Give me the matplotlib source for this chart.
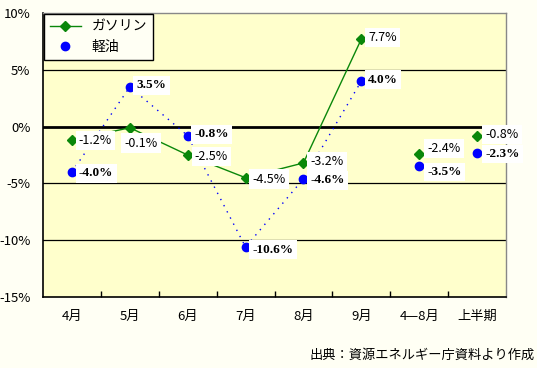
import matplotlib
matplotlib.use("Agg")
import matplotlib.pyplot as plt
import numpy as np
from matplotlib.lines import Line2D

categories = ["4月", "5月", "6月", "7月", "8月", "9月", "4—8月", "上半期"]
gasoline = [-1.2, -0.1, -2.5, -4.5, -3.2, 7.7, -2.4, -0.8]
diesel = [-4.0, 3.5, -0.8, -10.6, -4.6, 4.0, -3.5, -2.3]
gas_labels = ["-1.2%", "-0.1%", "-2.5%", "-4.5%", "-3.2%", "7.7%", "-2.4%", "-0.8%"]
diesel_labels = ["-4.0%", "3.5%", "-0.8%", "-10.6%", "-4.6%", "4.0%", "-3.5%", "-2.3%"]
yticks = [10, 5, 0, -5, -10, -15]
ytick_labels = ["10%", "5%", "0%", "-5%", "-10%", "-15%"]
source = "出典：資源エネルギー庁資料より作成"

JP = ["Noto Sans CJK JP", "DejaVu Sans"]
GREEN = "#0a870a"
BLUE = "#0000ff"

W, H = 537, 368
fig = plt.figure(figsize=(W / 100, H / 100), dpi=100)
fig.patch.set_facecolor("#fffff4")
ax = fig.add_axes([43 / W, 1 - 297 / H, (506 - 43) / W, (297 - 13) / H])
ax.set_facecolor("#ffffcc")

x = np.arange(len(categories))
n_line = 6
ax.plot(x[:n_line], gasoline[:n_line], color=GREEN, lw=1.0, marker="D", ms=5.5, zorder=3)
ax.plot(x[n_line:], gasoline[n_line:], color=GREEN, lw=0, marker="D", ms=5.5, zorder=3)
ax.plot(x[:n_line], diesel[:n_line], color=BLUE, lw=1.0, ls=(0, (1, 4)), marker="o", ms=6, zorder=3)
ax.plot(x[n_line:], diesel[n_line:], color=BLUE, lw=0, marker="o", ms=6, zorder=3)

gas_off = [(5, 0), (-4, -11), (5, -1), (5, -1), (5, 1), (5, 1), (6, 4), (6, 1)]
dsl_off = [(5, -1), (5, 1), (5, 1), (5, -2), (5, -1), (5, 1), (6, -4), (6, -1)]
bbox = dict(boxstyle="square,pad=0.25", fc="white", ec="none")
for xi, yi, t, off in zip(x, gasoline, gas_labels, gas_off):
    ax.annotate(t, (xi, yi), xytext=off, textcoords="offset points",
                ha="left", va="center", fontsize=9, family=JP, color="black",
                bbox=bbox, zorder=5)
for xi, yi, t, off in zip(x, diesel, diesel_labels, dsl_off):
    ax.annotate(t, (xi, yi), xytext=off, textcoords="offset points",
                ha="left", va="center", fontsize=9.5, family="Liberation Serif",
                weight="bold", color="black", bbox=bbox, zorder=5)

ax.set_xlim(-0.5, len(categories) - 0.5)
ax.set_ylim(-15, 10)
for g in [5, -5, -10]:
    ax.axhline(g, color="black", lw=0.9, zorder=1)
ax.axhline(0, color="black", lw=2.0, zorder=2)

ax.set_yticks(yticks)
ax.set_yticklabels(ytick_labels, family=JP, fontsize=9.5)
ax.tick_params(axis="y", length=0, pad=9)
ax.set_xticks(x)
ax.set_xticklabels(categories, family=JP, fontsize=9.5)
ax.tick_params(axis="x", length=0, pad=9)
ax.set_xticks(np.arange(0.5, len(categories) - 0.5), minor=True)
ax.tick_params(axis="x", which="minor", direction="in", length=4, width=1, color="black")

for s in ["left", "bottom"]:
    ax.spines[s].set_color("black")
    ax.spines[s].set_linewidth(1.2)
for s in ["top", "right"]:
    ax.spines[s].set_color("#888888")
    ax.spines[s].set_linewidth(1.0)

handles = [Line2D([], [], color=GREEN, lw=1.0, marker="D", ms=5.5),
           Line2D([], [], color=BLUE, lw=0, marker="o", ms=6)]
leg = ax.legend(handles, ["ガソリン", "軽油"], loc="upper left", bbox_to_anchor=(0.0, 1.0),
                prop={"family": JP, "size": 10}, frameon=True, fancybox=False,
                edgecolor="black", facecolor="#fffff4", framealpha=1,
                borderaxespad=0.1, handlelength=2.2, labelspacing=0.45)
leg.get_frame().set_linewidth(1.0)

fig.text(535 / W, 1 - 355 / H, source, ha="right", va="center", family=JP, fontsize=9.5)

fig.savefig("out.png", dpi=100, facecolor=fig.get_facecolor())
